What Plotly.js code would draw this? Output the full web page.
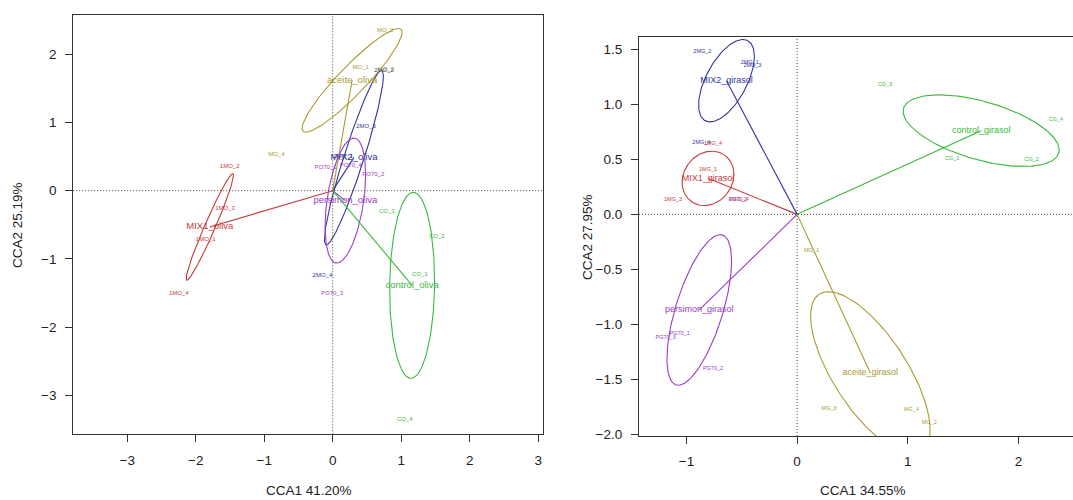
<!DOCTYPE html>
<html>
<head>
<meta charset="utf-8">
<script src="https://cdn.plot.ly/plotly-3.0.1.min.js"></script>
<style>html,body{margin:0;padding:0;background:#fff;}#chart{width:1073px;height:500px;}</style>
</head>
<body>
<div id="chart"></div>
<script>
// ---------- LEFT PANEL (oliva) ----------
const oliveGroups = ['MIX1_oliva', 'MIX2_oliva', 'aceite_oliva', 'persimon_oliva', 'control_oliva'];
const oliveMIX1Labels = ['1MO_1', '1MO_2', '1MO_3', '1MO_4'];
const oliveMIX1X = [-1.855, -1.504, -1.572, -2.248];
const oliveMIX1Y = [-0.714, 0.352, -0.264, -1.505];
const oliveMIX2Labels = ['2MO_1', '2MO_2', '2MO_3', '2MO_4'];
const oliveMIX2X = [0.153, 0.750, 0.487, -0.150];
const oliveMIX2Y = [0.495, 1.755, 0.940, -1.250];
const oliveAceiteLabels = ['MO_1', 'MO_2', 'MO_3', 'MO_4'];
const oliveAceiteX = [0.409, 0.781, 0.765, -0.823];
const oliveAceiteY = [1.813, 1.780, 2.356, 0.523];
const olivePersimonLabels = ['PO70_1', 'PO70_2', 'PO70_3', 'PO70_4'];
const olivePersimonX = [-0.105, 0.592, -0.010, 0.262];
const olivePersimonY = [0.337, 0.230, -1.515, 0.367];
const oliveControlLabels = ['CO_1', 'CO_2', 'CO_3', 'CO_4'];
const oliveControlX = [1.274, 1.520, 0.791, 1.053];
const oliveControlY = [-1.227, -0.665, -0.308, -3.353];
// ellipse spread (half-width x, half-height y, correlation)
const oliveEllipseHX = [0.346, 0.430, 0.730, 0.296, 0.328];
const oliveEllipseHY = [0.782, 1.280, 0.760, 0.916, 1.364];
const oliveEllipseRho = [0.97, 0.935, 0.925, 0.42, 0.05];

// ---------- RIGHT PANEL (girasol) ----------
const girasolGroups = ['MIX1_girasol', 'MIX2_girasol', 'aceite_girasol', 'persimon_girasol', 'control_girasol'];
const girasolMIX1Labels = ['1MG_1', '1MG_2', '1MG_3', '1MG_4'];
const girasolMIX1X = [-0.805, -0.534, -1.121, -0.760];
const girasolMIX1Y = [0.408, 0.130, 0.130, 0.640];
const girasolMIX2Labels = ['2MG_1', '2MG_2', '2MG_3', '2MG_4'];
const girasolMIX2X = [-0.428, -0.856, -0.404, -0.865];
const girasolMIX2Y = [1.377, 1.474, 1.353, 0.650];
const girasolAceiteLabels = ['MG_1', 'MG_2', 'MG_3', 'MG_4'];
const girasolAceiteX = [0.130, 1.194, 0.289, 1.034];
const girasolAceiteY = [-0.333, -1.888, -1.761, -1.776];
const girasolPersimonLabels = ['PG70_1', 'PG70_2', 'PG70_3', 'PG70_4'];
const girasolPersimonX = [-1.061, -0.760, -1.188, -0.528];
const girasolPersimonY = [-1.080, -1.404, -1.117, 0.130];
const girasolControlLabels = ['CG_1', 'CG_2', 'CG_3', 'CG_4'];
const girasolControlX = [1.402, 2.119, 0.793, 2.339];
const girasolControlY = [0.505, 0.493, 1.180, 0.862];
const girasolEllipseHX = [0.234, 0.252, 0.540, 0.292, 0.705];
const girasolEllipseHY = [0.247, 0.374, 0.738, 0.684, 0.325];
const girasolEllipseRho = [0.15, 0.59, -0.70, 0.65, -0.54];

const groupColors = ['#C43C3C', '#35359E', '#A89C34', '#9A3CC8', '#3CB83C'];

const oliveTicksX = [-3, -2, -1, 0, 1, 2, 3];
const oliveTicksY = [-3, -2, -1, 0, 1, 2];
const girasolTicksX = [-1, 0, 1, 2];
const girasolTicksY = [-2.0, -1.5, -1.0, -0.5, 0.0, 0.5, 1.0, 1.5];

const FONT = 'Liberation Sans, Arial, Helvetica, sans-serif';

function mean(a) { return a.reduce((s, v) => s + v, 0) / a.length; }

function ellipsePts(cx, cy, hx, hy, rho) {
  const xs = [], ys = [];
  const n = 160;
  const s = Math.sqrt(1 - rho * rho);
  for (let i = 0; i <= n; i++) {
    const t = 2 * Math.PI * i / n;
    xs.push(cx + hx * Math.cos(t));
    ys.push(cy + hy * (rho * Math.cos(t) + s * Math.sin(t)));
  }
  return { xs, ys };
}

function buildPanel(groups, labels, xs, ys, hx, hy, rho, xa, ya, sampleSize, groupSize) {
  const traces = [];
  groups.forEach((g, i) => {
    const cx = mean(xs[i]), cy = mean(ys[i]);
    const col = groupColors[i];
    const e = ellipsePts(cx, cy, hx[i], hy[i], rho[i]);
    traces.push({ x: e.xs, y: e.ys, mode: 'lines', type: 'scatter', xaxis: xa, yaxis: ya,
      line: { color: col, width: 1.1 }, hoverinfo: 'skip', showlegend: false });
    traces.push({ x: [0, cx], y: [0, cy], mode: 'lines', type: 'scatter', xaxis: xa, yaxis: ya,
      line: { color: col, width: 1.1 }, hoverinfo: 'skip', showlegend: false });
    traces.push({ x: xs[i], y: ys[i], text: labels[i], mode: 'text', type: 'scatter', xaxis: xa, yaxis: ya,
      textfont: { family: FONT, size: sampleSize, color: col }, textposition: 'middle center', showlegend: false });
    traces.push({ x: [cx], y: [cy], text: [g], mode: 'text', type: 'scatter', xaxis: xa, yaxis: ya,
      textfont: { family: FONT, size: groupSize, color: col }, textposition: 'middle center', showlegend: false });
  });
  return traces;
}

const data = [].concat(
  buildPanel(oliveGroups,
    [oliveMIX1Labels, oliveMIX2Labels, oliveAceiteLabels, olivePersimonLabels, oliveControlLabels],
    [oliveMIX1X, oliveMIX2X, oliveAceiteX, olivePersimonX, oliveControlX],
    [oliveMIX1Y, oliveMIX2Y, oliveAceiteY, olivePersimonY, oliveControlY],
    oliveEllipseHX, oliveEllipseHY, oliveEllipseRho, 'x', 'y', 6, 9.5),
  buildPanel(girasolGroups,
    [girasolMIX1Labels, girasolMIX2Labels, girasolAceiteLabels, girasolPersimonLabels, girasolControlLabels],
    [girasolMIX1X, girasolMIX2X, girasolAceiteX, girasolPersimonX, girasolControlX],
    [girasolMIX1Y, girasolMIX2Y, girasolAceiteY, girasolPersimonY, girasolControlY],
    girasolEllipseHX, girasolEllipseHY, girasolEllipseRho, 'x2', 'y2', 5.5, 9)
);

const axisCommon = {
  showgrid: false, zeroline: false, showline: true, linecolor: '#333', linewidth: 1,
  ticks: 'outside', ticklen: 7, tickwidth: 1, tickcolor: '#333',
  tickfont: { family: FONT, size: 13.5, color: '#222' }, ticklabelstandoff: 6
};

const dotLine = { color: '#444', width: 1, dash: '1px,2px' };
const titleFont = { family: FONT, size: 13.5, color: '#222' };

const layout = {
  width: 1073, height: 500,
  margin: { l: 0, r: 0, t: 0, b: 0 },
  paper_bgcolor: '#fff', plot_bgcolor: '#fff',
  showlegend: false,
  xaxis: Object.assign({}, axisCommon, { domain: [0.0682, 0.506], range: [-3.79, 3.07], mirror: true,
    tickvals: oliveTicksX, anchor: 'y' }),
  yaxis: Object.assign({}, axisCommon, { domain: [0.1314, 0.97], range: [-3.573, 2.576], mirror: true,
    tickvals: oliveTicksY, anchor: 'x' }),
  xaxis2: Object.assign({}, axisCommon, { domain: [0.5955, 1.0], range: [-1.429, 2.493], mirror: true,
    tickvals: girasolTicksX, anchor: 'y2' }),
  yaxis2: Object.assign({}, axisCommon, { domain: [0.128, 0.9266], range: [-2.012, 1.613], mirror: false,
    tickvals: girasolTicksY, tickformat: '.1f', anchor: 'x2' }),
  shapes: [
    { type: 'line', xref: 'x', yref: 'y domain', x0: 0, x1: 0, y0: 0, y1: 1, line: dotLine },
    { type: 'line', xref: 'x domain', yref: 'y', x0: 0, x1: 1, y0: 0, y1: 0, line: dotLine },
    { type: 'line', xref: 'x2', yref: 'y2 domain', x0: 0, x1: 0, y0: 0, y1: 1, line: dotLine },
    { type: 'line', xref: 'x2 domain', yref: 'y2', x0: 0, x1: 1, y0: 0, y1: 0, line: dotLine }
  ],
  annotations: [
    { text: 'CCA1 41.20%', xref: 'paper', yref: 'paper', x: 0.288, y: 0.02, xanchor: 'center', yanchor: 'middle',
      showarrow: false, font: titleFont },
    { text: 'CCA2 25.19%', xref: 'paper', yref: 'paper', x: 0.0168, y: 0.55, xanchor: 'center', yanchor: 'middle',
      textangle: -90, showarrow: false, font: titleFont },
    { text: 'CCA1 34.55%', xref: 'paper', yref: 'paper', x: 0.8043, y: 0.02, xanchor: 'center', yanchor: 'middle',
      showarrow: false, font: titleFont },
    { text: 'CCA2 27.95%', xref: 'paper', yref: 'paper', x: 0.547, y: 0.526, xanchor: 'center', yanchor: 'middle',
      textangle: -90, showarrow: false, font: titleFont }
  ]
};

Plotly.newPlot('chart', data, layout, { staticPlot: true, displayModeBar: false });
</script>
</body>
</html>
